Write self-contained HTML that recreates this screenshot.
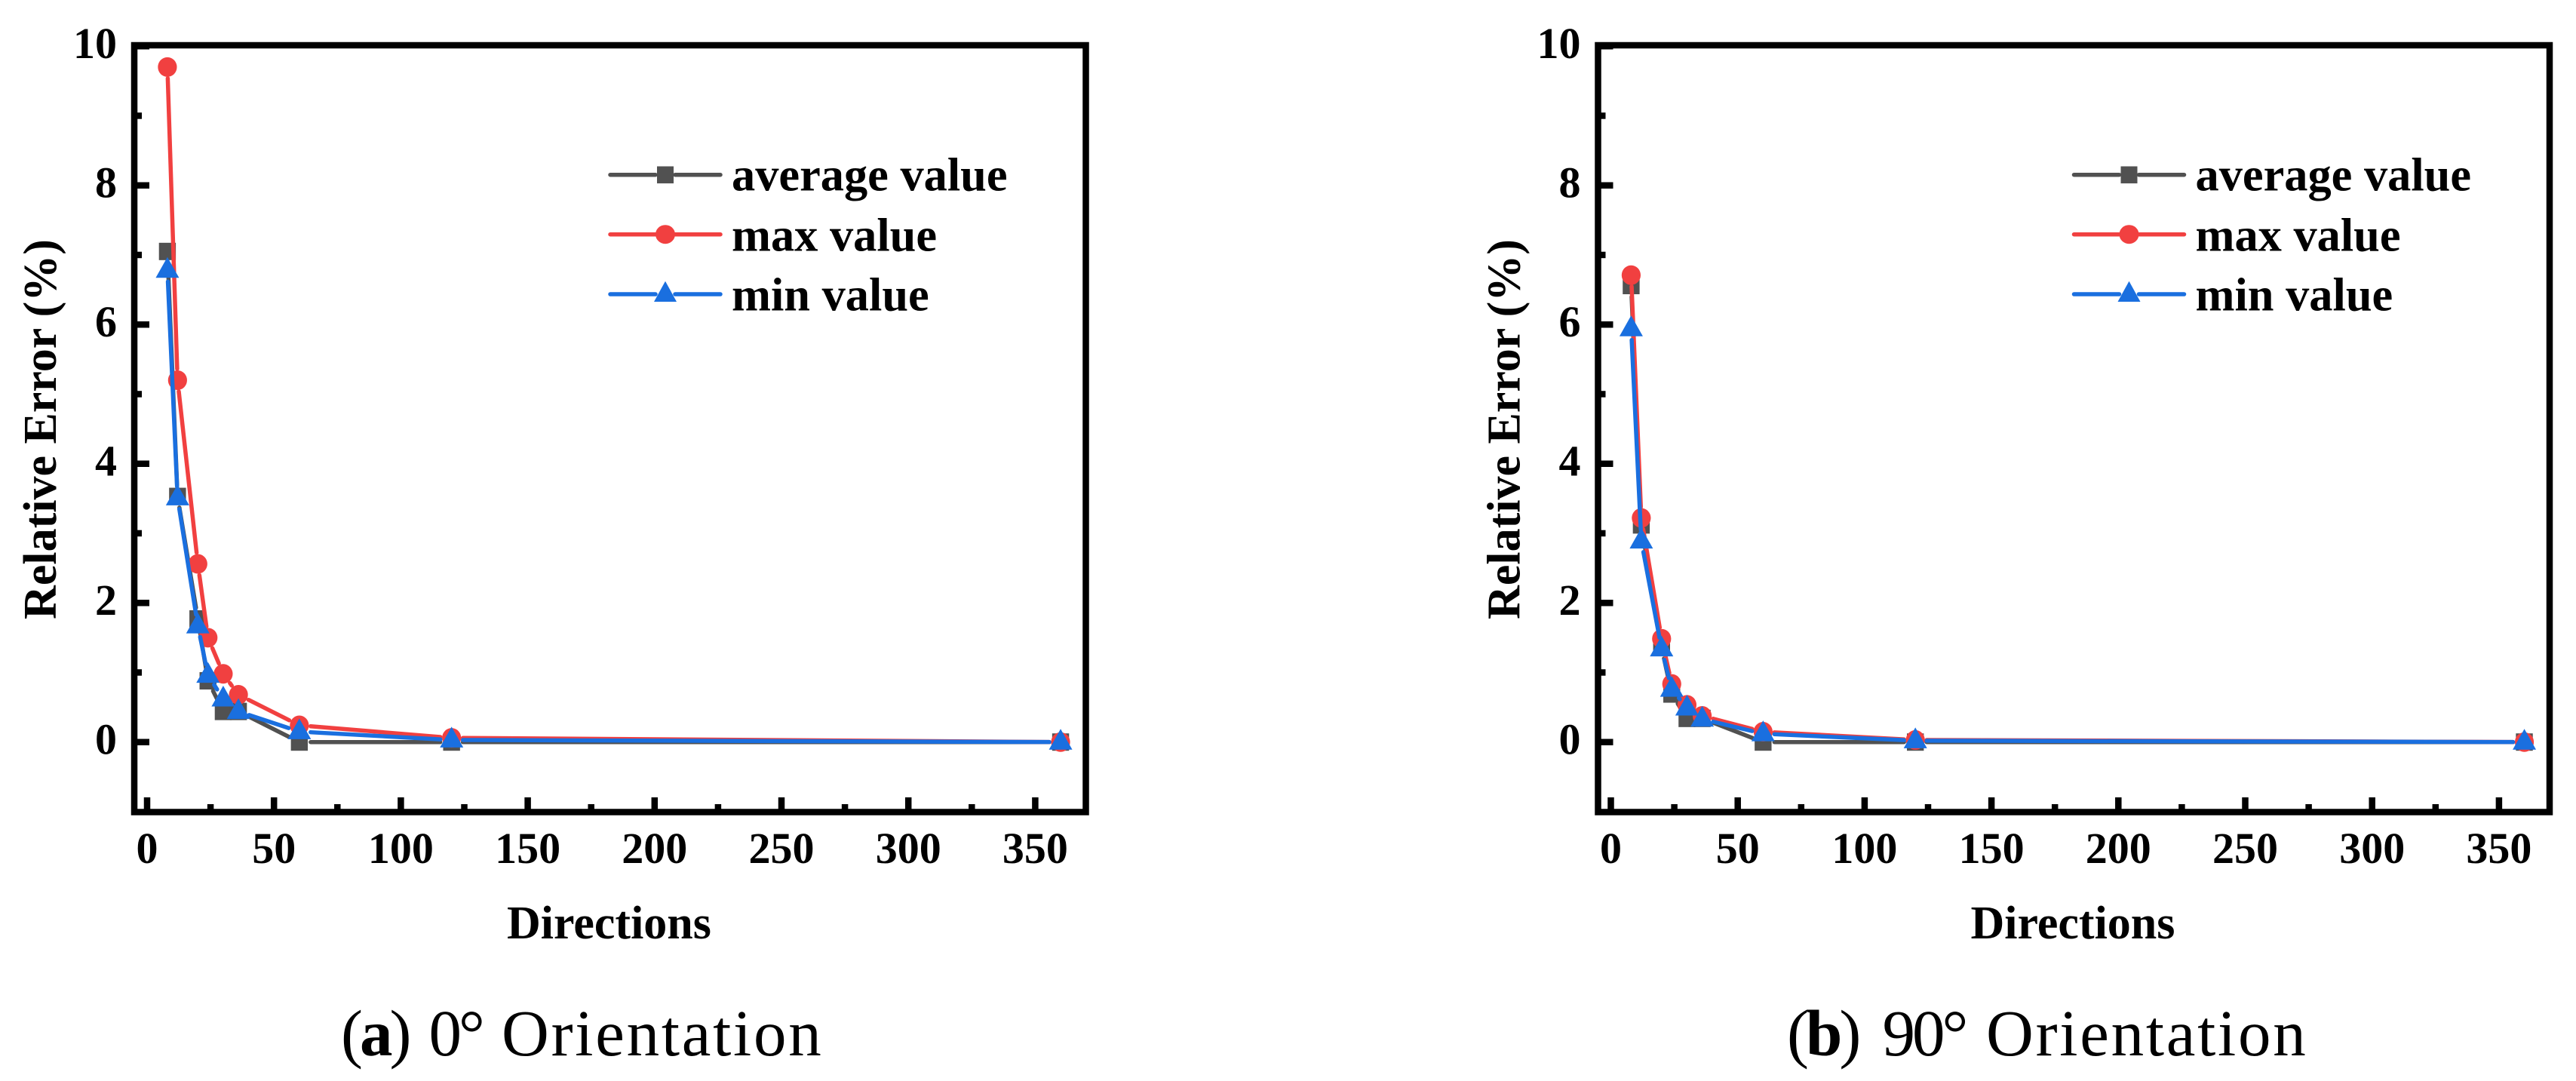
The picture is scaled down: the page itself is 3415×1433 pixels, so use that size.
<!DOCTYPE html>
<html lang="en">
<head>
<meta charset="utf-8">
<title>Relative Error vs Directions</title>
<style>
html,body{margin:0;padding:0;background:#fff;}
svg{display:block;}
text{font-family:"Liberation Serif",serif;fill:#000;}
.b{font-weight:bold;}
.tick{font-size:58px;font-weight:bold;}
.title{font-size:62px;font-weight:bold;}
.leg{font-size:62.4px;font-weight:bold;}
.cap{font-size:87px;}
</style>
</head>
<body>
<svg id="fig" width="3415" height="1433" viewBox="0 0 3415 1433" xmlns="http://www.w3.org/2000/svg">
  <rect width="3415" height="1433" fill="#fff"/>

  <g id="panel-a">
    <g id="plot-a"></g>
    <rect x="178" y="60" width="1261.5" height="1016.5" fill="none" stroke="#000" stroke-width="8.5"/>
    <text class="title" transform="translate(74,569) rotate(-90)" text-anchor="middle">Relative Error (%)</text>
    <text class="title" x="672" y="1244">Directions</text>
    <g>
      <g>
        <path d="M809 231.7H869M895 231.7H955" stroke="#515151" stroke-width="5.5" stroke-linecap="round" fill="none"/>
        <rect x="871" y="220.5" width="22" height="22.6" fill="#515151"/>
        <text class="leg" x="970" y="252.7">average value</text>
      </g>
      <g>
        <path d="M809 310.7H869M895 310.7H955" stroke="#F14040" stroke-width="5.5" stroke-linecap="round" fill="none"/>
        <ellipse cx="882" cy="310.7" rx="13" ry="12.5" fill="#F14040"/>
        <text class="leg" x="970" y="332.3">max value</text>
      </g>
      <g>
        <path d="M809 390H869M895 390H955" stroke="#1A6FDF" stroke-width="5.5" stroke-linecap="round" fill="none"/>
        <polygon points="882,372.7 897,400 867,400" fill="#1A6FDF"/>
        <text class="leg" x="970" y="411.7">min value</text>
      </g>
    </g>
    <text class="cap" y="1399"><tspan x="452" letter-spacing="-4">(<tspan class="b">a</tspan>)</tspan><tspan x="568.5" letter-spacing="-4">0°</tspan><tspan x="665" letter-spacing="2.75">Orientation</tspan></text>
  </g>

  <g id="panel-b" transform="translate(1940.5,0)">
    <g id="plot-b"></g>
    <rect x="178" y="60" width="1261.5" height="1016.5" fill="none" stroke="#000" stroke-width="8.5"/>
    <text class="title" transform="translate(74,569) rotate(-90)" text-anchor="middle">Relative Error (%)</text>
    <text class="title" x="672" y="1244">Directions</text>
    <g>
      <g>
        <path d="M809 231.7H869M895 231.7H955" stroke="#515151" stroke-width="5.5" stroke-linecap="round" fill="none"/>
        <rect x="871" y="220.5" width="22" height="22.6" fill="#515151"/>
        <text class="leg" x="970" y="252.7">average value</text>
      </g>
      <g>
        <path d="M809 310.7H869M895 310.7H955" stroke="#F14040" stroke-width="5.5" stroke-linecap="round" fill="none"/>
        <ellipse cx="882" cy="310.7" rx="13" ry="12.5" fill="#F14040"/>
        <text class="leg" x="970" y="332.3">max value</text>
      </g>
      <g>
        <path d="M809 390H869M895 390H955" stroke="#1A6FDF" stroke-width="5.5" stroke-linecap="round" fill="none"/>
        <polygon points="882,372.7 897,400 867,400" fill="#1A6FDF"/>
        <text class="leg" x="970" y="411.7">min value</text>
      </g>
    </g>
    <text class="cap" y="1399"><tspan x="428.5" letter-spacing="-4">(<tspan class="b">b</tspan>)</tspan><tspan x="555" letter-spacing="-4">90°</tspan><tspan x="692.5" letter-spacing="2.75">Orientation</tspan></text>
  </g>
</svg>
<script>
var directions = [8, 12, 20, 24, 30, 36, 60, 120, 360];
var averageA = [7.05, 3.53, 1.77, 0.88, 0.44, 0.44, 0, 0, 0];
var maxA = [9.7, 5.2, 2.56, 1.5, 0.98, 0.68, 0.24, 0.06, 0];
var minA = [6.78, 3.51, 1.67, 0.96, 0.62, 0.44, 0.15, 0.03, 0];
var averageB = [6.56, 3.12, 1.36, 0.69, 0.34, 0.34, 0, 0, 0];
var maxB = [6.71, 3.22, 1.485, 0.835, 0.535, 0.376, 0.148, 0.03, 0];
var minB = [5.94, 2.89, 1.34, 0.76, 0.49, 0.33, 0.12, 0.02, 0];
var xMajorTicks = [0, 50, 100, 150, 200, 250, 300, 350];
var xMinorTicks = [25, 75, 125, 175, 225, 275, 325];
var yMajorTicks = [10, 8, 6, 4, 2, 0];
var yMinorTicks = [9, 7, 5, 3, 1];

var NS = 'http://www.w3.org/2000/svg';
function xScale(v) { return 195 + 3.364 * v; }
function yScale(v) { return 983.7 - 92.25 * v; }

function make(tag, attrs, parent) {
  var el = document.createElementNS(NS, tag);
  for (var k in attrs) { el.setAttribute(k, attrs[k]); }
  parent.appendChild(el);
  return el;
}

function drawAxes(plot) {
  xMajorTicks.forEach(function (t) {
    var tick = make('line', { x1: xScale(t), x2: xScale(t), y1: 1076, y2: 1057, stroke: '#000', 'stroke-width': 8.5 }, plot);
    
    
    var label = make('text', { x: xScale(t), y: 1144, 'text-anchor': 'middle', 'class': 'tick' }, plot);
    label.textContent = String(t);
    
    
  });
  xMinorTicks.forEach(function (t) {
    var tick = make('line', { x1: xScale(t), x2: xScale(t), y1: 1076, y2: 1066, stroke: '#000', 'stroke-width': 8.5 }, plot);
    
    
  });
  yMajorTicks.forEach(function (t) {
    var tick = make('line', { x1: 178, x2: 198, y1: yScale(t), y2: yScale(t), stroke: '#000', 'stroke-width': 8.5 }, plot);
    
    
    var label = make('text', { x: 155, y: yScale(t) + 16, 'text-anchor': 'end', 'class': 'tick' }, plot);
    label.textContent = String(t);
    
    
  });
  yMinorTicks.forEach(function (t) {
    var tick = make('line', { x1: 178, x2: 188, y1: yScale(t), y2: yScale(t), stroke: '#000', 'stroke-width': 8.5 }, plot);
    
    
  });
}

function drawSeries(plot, values, color, shape, name) {
  var gap = 15;
  var group = make('g', {}, plot);
  
  
  for (var i = 0; i + 1 < values.length; i++) {
    var x1 = xScale(directions[i]), y1 = yScale(values[i]);
    var x2 = xScale(directions[i + 1]), y2 = yScale(values[i + 1]);
    var d = Math.hypot(x2 - x1, y2 - y1);
    if (d <= 2 * gap) { continue; }
    var ux = (x2 - x1) / d, uy = (y2 - y1) / d;
    var seg = make('line', {
      x1: x1 + ux * gap, y1: y1 + uy * gap, x2: x2 - ux * gap, y2: y2 - uy * gap,
      stroke: color, 'stroke-width': 5.5, 'stroke-linecap': 'round'
    }, group);
    
    
  }
  values.forEach(function (v, j) {
    var cx = xScale(directions[j]), cy = yScale(v), mark;
    if (shape === 'square') {
      mark = make('rect', { x: cx - 11.2, y: cy - 11.5, width: 22.4, height: 23, fill: color }, group);
    } else if (shape === 'circle') {
      mark = make('ellipse', { cx: cx, cy: cy, rx: 12.6, ry: 13, fill: color }, group);
    } else {
      var pts = cx + ',' + (cy - 17.5) + ' ' + (cx + 15.5) + ',' + (cy + 10) + ' ' + (cx - 15.5) + ',' + (cy + 10);
      mark = make('polygon', { points: pts, fill: color }, group);
    }
    
    
  });
}

var plotA = document.getElementById('plot-a');
var plotB = document.getElementById('plot-b');
drawAxes(plotA);
drawSeries(plotA, averageA, '#515151', 'square', 'average-value');
drawSeries(plotA, maxA, '#F14040', 'circle', 'max-value');
drawSeries(plotA, minA, '#1A6FDF', 'triangle', 'min-value');
drawAxes(plotB);
drawSeries(plotB, averageB, '#515151', 'square', 'average-value');
drawSeries(plotB, maxB, '#F14040', 'circle', 'max-value');
drawSeries(plotB, minB, '#1A6FDF', 'triangle', 'min-value');
</script>
</body>
</html>
